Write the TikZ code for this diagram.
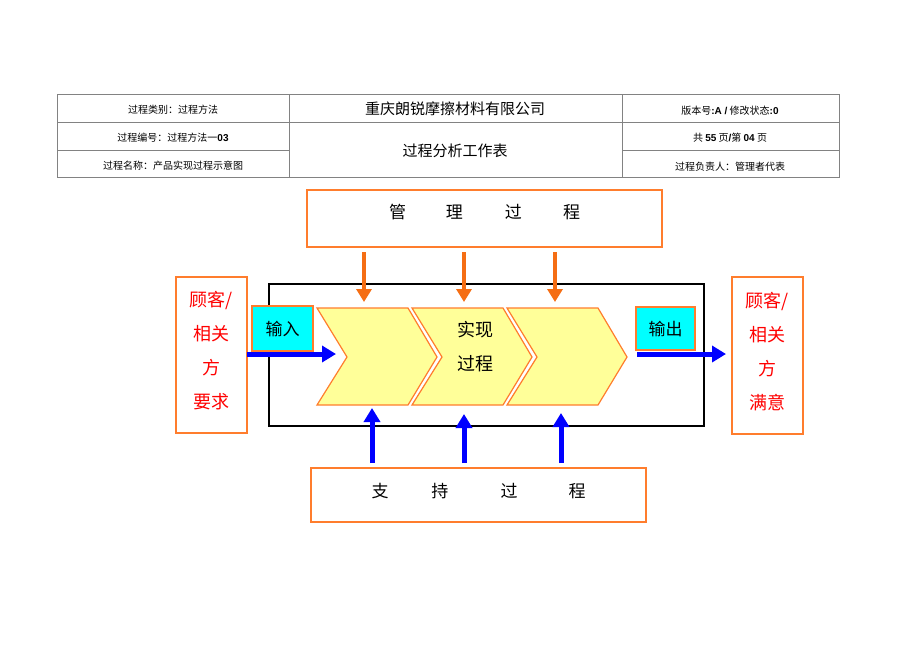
\documentclass[tikz,border=0pt]{standalone}
\usepackage{fontspec}
\setmainfont{Noto Sans CJK SC}
\newfontfamily\latin{Liberation Sans}
\usetikzlibrary{arrows.meta}
\definecolor{boxorange}{RGB}{255,125,45}
\definecolor{arroworange}{RGB}{245,110,20}
\definecolor{chevyellow}{RGB}{255,255,153}
\definecolor{iocyan}{RGB}{0,255,255}
\definecolor{tablegray}{RGB}{130,130,130}
\tikzset{
  procbox/.style={draw=boxorange, line width=1.5pt, inner sep=0pt, outer sep=0pt, font=\fontsize{17}{17}\selectfont},
  iobox/.style={draw=boxorange, line width=1.5pt, fill=iocyan, inner sep=0pt, outer sep=0pt, font=\fontsize{17}{17}\selectfont},
  custbox/.style={draw=boxorange, line width=1.2pt, text=red, align=center, inner sep=0pt, outer sep=0pt, minimum width=71pt, font=\fontsize{18}{34}\selectfont},
  downarrow/.style={-{Triangle[width=15pt,length=13pt]}, arroworange, line width=4.5pt},
  bluearrow/.style={-{Triangle[width=16pt,length=14pt]}, blue, line width=5pt},
  cell/.style={font=\fontsize{10}{10}\selectfont}
}

\begin{document}
\begin{tikzpicture}[x=1pt, y=-1pt]
    \useasboundingbox (0,0) rectangle (920,651);
    %tikz header table
    \draw[tablegray, line width=0.8pt] (57,94) rectangle (839,177);
    \draw[tablegray, line width=0.8pt] (289,94) -- (289,177) (622,94) -- (622,177) (57,122) -- (839,122)
      (57,150) -- (289,150) (622,150) -- (839,150);
    \node[cell] (kind) at (173,110){ 过程类别：过程方法 };
    \node[cell] (num) at (173,138){ 过程编号：过程方法一{\latin\bfseries 03} };
    \node[cell] (name) at (173,166){ 过程名称：产品实现过程示意图 };
    \node[cell] (ver) at (730,111){ 版本号{\latin\bfseries :A /} 修改状态{\latin\bfseries :0} };
    \node[cell] (page) at (730,138){ 共 {\latin\bfseries 55} 页{\latin\bfseries /}第 {\latin\bfseries 04} 页 };
    \node[cell] (owner) at (730,167){ 过程负责人：管理者代表 };
    \node[font=\fontsize{15}{15}\selectfont] (company) at (455,109){ 重庆朗锐摩擦材料有限公司 };
    \node[font=\fontsize{15}{15}\selectfont] (sheet) at (455,151){ 过程分析工作表 };

    %tikz process map
    \node[procbox, minimum width=355pt, minimum height=57pt] at (484.5,218.5) (mgmt){ \raisebox{0pt}[0pt][0pt]{管\hspace{40pt}理\hspace{42pt}过\hspace{41pt}程} };
    \node[procbox, minimum width=335pt, minimum height=54pt] at (478.5,495) (supp){ \raisebox{-2pt}[0pt][0pt]{支\hspace{43pt}持\hspace{52pt}过\hspace{51pt}程} };
    \draw[line width=1.2pt] (269,284) rectangle (704,426);
    \foreach \dx in {0,95,190}
      \draw[boxorange, fill=chevyellow, line width=1.2pt] (317+\dx,308) -- (408+\dx,308) -- (437+\dx,357)
        -- (408+\dx,405) -- (317+\dx,405) -- (347+\dx,357) -- cycle;
    \node[align=center, font=\fontsize{18}{34}\selectfont] at (475,347) (real){ 实现\\过程 };
    \node[iobox, minimum width=61pt, minimum height=45pt] at (282.5,328.5) (inp){ 输入 };
    \node[iobox, minimum width=59pt, minimum height=43pt] at (665.5,328.5) (outp){ 输出 };
    \node[custbox, minimum height=156pt] at (211.5,355) (custin){ 顾客/\\相关\\方\\要求\\[-24pt] };
    \node[custbox, minimum height=157pt] at (767.5,355.5) (custout){ 顾客/\\相关\\方\\满意\\[-24pt] };

    \coordinate (m1) at (364,302);
    \coordinate (m2) at (464,302);
    \coordinate (m3) at (555,302);
    \coordinate (s1) at (372,408);
    \coordinate (s2) at (464,414);
    \coordinate (s3) at (561,413);
    \foreach \i in {1,2,3}{
      \draw[downarrow, shorten <=5pt] (mgmt.south -| m\i) -- (m\i);
      \draw[bluearrow, shorten <=5pt] (supp.north -| s\i) -- (s\i);
    }
    \coordinate (intip) at (336,354);
    \coordinate (outtail) at (637,354);
    \draw[bluearrow] (custin.east |- intip) -- (intip);
    \draw[bluearrow, shorten >=6pt] (outtail) -- (custout.west |- outtail);
  \end{tikzpicture}
\end{document}
